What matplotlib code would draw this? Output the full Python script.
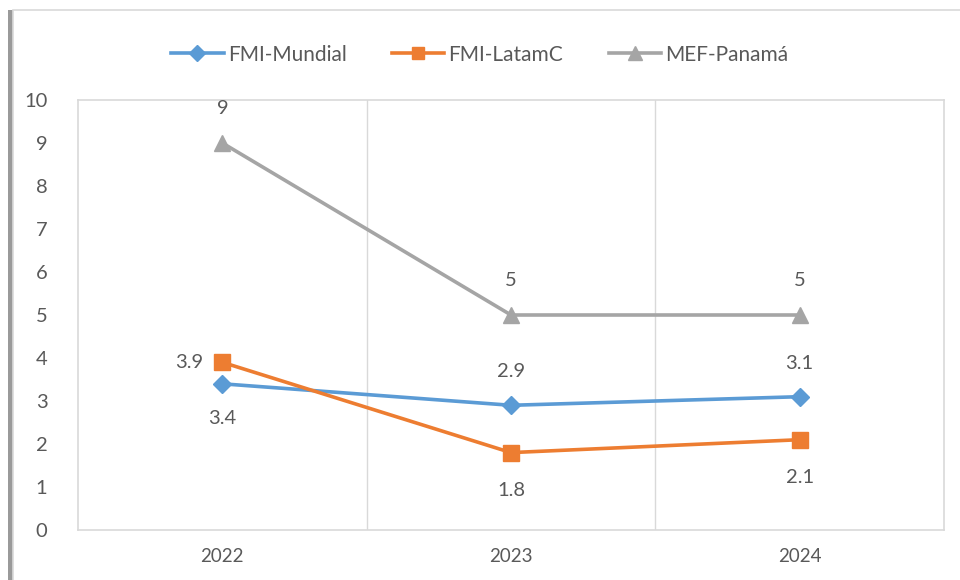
import matplotlib.pyplot as plt
from matplotlib.patches import Rectangle

plt.rcParams['font.family'] = ['Lato', 'DejaVu Sans']

anios = ['2022', '2023', '2024']
fmi_mundial = [3.4, 2.9, 3.1]
fmi_latam = [3.9, 1.8, 2.1]
mef_panama = [9, 5, 5]

gris_txt = '#595959'
x = range(len(anios))

fig = plt.figure(figsize=(9.6, 5.8), dpi=100)

# marco del grafico con sombra a la izquierda
fig.patches.append(Rectangle((8 / 960, 0), 6 / 960, 1 - 10 / 580, transform=fig.transFigure,
                             facecolor='#9a9a9a', edgecolor='none', zorder=0))
fig.patches.append(Rectangle((13 / 960, -0.01), 1.0, 1 - 10 / 580 + 0.01, transform=fig.transFigure,
                             facecolor='white', edgecolor='#d9d9d9', linewidth=1.2, zorder=1))

ax = fig.add_axes([78 / 960, 50 / 580, 866 / 960, 430 / 580])
ax.set_zorder(2)

ax.plot(x, fmi_mundial, color='#5B9BD5', linewidth=2.6, marker='D', markersize=9, label='FMI-Mundial')
ax.plot(x, fmi_latam, color='#ED7D31', linewidth=2.6, marker='s', markersize=11, label='FMI-LatamC')
ax.plot(x, mef_panama, color='#A5A5A5', linewidth=2.6, marker='^', markersize=12, label='MEF-Panamá')

# etiquetas de datos
def etiqueta(xi, yi, dx, dy, ha='center'):
    ax.annotate(f'{yi:g}', (xi, yi), xytext=(dx, dy), textcoords='offset points',
                ha=ha, va='center', fontsize=14.5, color=gris_txt)

etiqueta(0, mef_panama[0], 0, 25)
etiqueta(1, mef_panama[1], 0, 25)
etiqueta(2, mef_panama[2], 0, 25)
etiqueta(0, fmi_mundial[0], 0, -25)
etiqueta(1, fmi_mundial[1], 0, 24)
etiqueta(2, fmi_mundial[2], 0, 24)
etiqueta(0, fmi_latam[0], -14, 0, ha='right')
etiqueta(1, fmi_latam[1], 0, -27)
etiqueta(2, fmi_latam[2], 0, -27)

ax.set_xlim(-0.5, 2.5)
ax.set_ylim(0, 10)
ax.set_yticks(range(0, 11))
ax.set_xticks(list(x))
ax.set_xticklabels(anios)
ax.tick_params(axis='both', length=0, labelsize=14.5, labelcolor=gris_txt)
ax.tick_params(axis='x', pad=13, labelsize=13.5)
ax.tick_params(axis='y', pad=22)

for xv in [0.5, 1.5]:
    ax.axvline(xv, color='#d9d9d9', linewidth=1, zorder=0)
for s in ax.spines.values():
    s.set_color('#d9d9d9')
    s.set_linewidth(1.2)

fig.legend(loc='upper center', bbox_to_anchor=(0.5, 1 - 26 / 580), ncol=3, frameon=False,
           fontsize=15, labelcolor=gris_txt, handlelength=2.5, columnspacing=2.2,
           handletextpad=0.2, markerscale=0.85)

plt.savefig('out.png', dpi=100)
